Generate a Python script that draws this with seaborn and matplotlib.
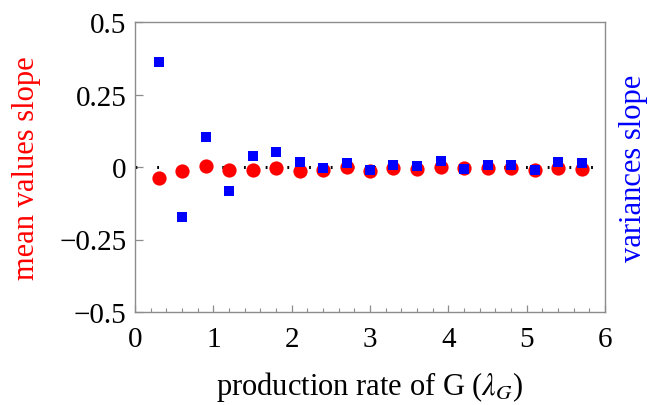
import matplotlib
matplotlib.use("Agg")
import matplotlib.pyplot as plt
from matplotlib.ticker import FixedLocator, FixedFormatter, MultipleLocator
import seaborn as sns
import pandas as pd

# production rate of G
rate = [0.3, 0.6, 0.9, 1.2, 1.5, 1.8, 2.1, 2.4, 2.7, 3.0,
        3.3, 3.6, 3.9, 4.2, 4.5, 4.8, 5.1, 5.4, 5.7]
# slope of the mean values
mean_slope = [-0.037, -0.013, 0.002, -0.009, -0.010, -0.002, -0.013, -0.009, 0.001, -0.014,
              -0.005, -0.007, 0.001, -0.004, -0.005, -0.002, -0.010, -0.002, -0.007]
# slope of the variances
var_slope = [0.363, -0.171, 0.102, -0.082, 0.037, 0.051, 0.018, -0.003, 0.014, -0.010,
             0.006, 0.002, 0.022, -0.007, 0.008, 0.008, -0.009, 0.018, 0.015]

y_ticks = [-0.5, -0.25, 0, 0.25, 0.5]
y_tick_labels = ["\u22120.5", "\u22120.25", "0", "0.25", "0.5"]
x_ticks = [0, 1, 2, 3, 4, 5, 6]
x_tick_labels = ["0", "1", "2", "3", "4", "5", "6"]

df = pd.DataFrame({"rate": rate, "mean": mean_slope, "var": var_slope})

sns.set_style("white")
plt.rcParams["font.family"] = ["Liberation Serif", "DejaVu Serif"]
plt.rcParams["mathtext.fontset"] = "stix"

fig = plt.figure(figsize=(6.54, 4.06), dpi=100)
ax = fig.add_axes([135 / 654, 1 - 313 / 406, 470 / 654, 290 / 406])

ax.axhline(0, color="black", linewidth=2.2, linestyle=(0, (0.6, 6.5)), zorder=1)

sns.scatterplot(data=df, x="rate", y="mean", ax=ax, color=(1, 0, 0), marker="o",
                s=105, linewidth=0, zorder=2)
sns.scatterplot(data=df, x="rate", y="var", ax=ax, color=(0, 0, 1), marker="s",
                s=52, linewidth=0, zorder=3)

ax.set_xlim(0, 6)
ax.set_ylim(-0.5, 0.5)
ax.xaxis.set_major_locator(FixedLocator(x_ticks))
ax.xaxis.set_major_formatter(FixedFormatter(x_tick_labels))
ax.xaxis.set_minor_locator(MultipleLocator(0.2))
ax.yaxis.set_major_locator(FixedLocator(y_ticks))
ax.yaxis.set_major_formatter(FixedFormatter(y_tick_labels))

frame_color = "#8c8c8c"
for sp in ax.spines.values():
    sp.set_color(frame_color)
    sp.set_linewidth(1.0)

ax.tick_params(axis="both", which="both", direction="in", color=frame_color,
               bottom=True, left=True, top=False, right=False,
               labelsize=21, labelcolor="black")
ax.tick_params(axis="x", which="major", length=5, width=0.9, pad=10)
ax.tick_params(axis="x", which="minor", length=3, width=0.8)
ax.tick_params(axis="y", which="major", length=6, width=0.9, pad=6)
ax.tick_params(axis="y", which="minor", left=False)

ax.set_xlabel(r"production rate of G ($\lambda_G$)", fontsize=22, color="black")
ax.xaxis.set_label_coords(0.5, -0.195)
ax.set_ylabel("mean values slope", fontsize=22, color=(1, 0, 0))
ax.yaxis.set_label_coords(-0.2, 0.5)
ax.text(1.03, 0.5, "variances slope", transform=ax.transAxes, rotation=90,
        ha="left", va="center", fontsize=22, color=(0, 0, 1))

fig.savefig("out.png", dpi=100)
